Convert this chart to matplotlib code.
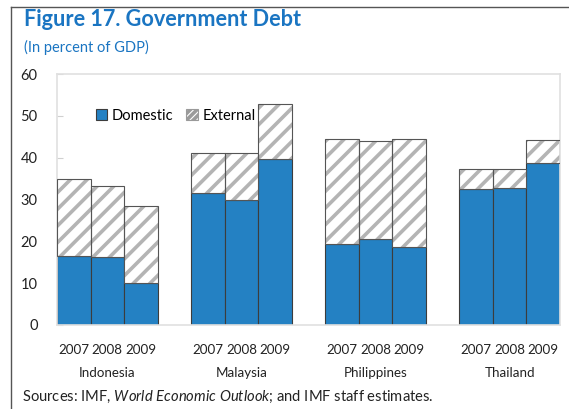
import matplotlib
matplotlib.use("Agg")
import matplotlib.pyplot as plt
from matplotlib.patches import Patch
from matplotlib.lines import Line2D

plt.rcParams['font.family'] = ['Lato', 'DejaVu Sans']
plt.rcParams['mathtext.fontset'] = 'custom'
plt.rcParams['mathtext.it'] = 'Lato:italic'
plt.rcParams['mathtext.rm'] = 'Lato'

# data
countries = ['Indonesia', 'Malaysia', 'Philippines', 'Thailand']
years = ['2007', '2008', '2009']
domestic = [[16.4, 16.3, 10.1],
            [31.6, 30.0, 39.8],
            [19.3, 20.6, 18.6],
            [32.4, 32.7, 38.8]]
total = [[35.0, 33.2, 28.5],
         [41.2, 41.2, 52.8],
         [44.5, 44.1, 44.4],
         [37.4, 37.4, 44.2]]

blue = '#2481c3'
title_blue = '#1a75c2'
edge = '#3c3c3c'
hatch_grey = '#b4b4b4'
plt.rcParams['hatch.linewidth'] = 2.6

fig = plt.figure(figsize=(5.69, 4.09), dpi=100)
ax = fig.add_axes([57 / 569, 1 - 325 / 409, 503 / 569, 251 / 409])

pos, dom, ext, labels = [], [], [], []
for g in range(len(countries)):
    for i in range(len(years)):
        pos.append(4 * g + i)
        dom.append(domestic[g][i])
        ext.append(total[g][i] - domestic[g][i])
        labels.append(years[i])

ax.bar(pos, dom, width=1.0, color=blue, edgecolor=edge, linewidth=0.8, zorder=2)
# external: hatch layer first, then outline on top
ax.bar(pos, ext, bottom=dom, width=1.0, color='white', edgecolor=hatch_grey,
       hatch='//', linewidth=0, zorder=2)
ax.bar(pos, ext, bottom=dom, width=1.0, fill=False, edgecolor='#555555',
       linewidth=0.8, zorder=3)

ax.set_xlim(-0.5, 14.5)
ax.set_ylim(0, 60)
ax.set_yticks(range(0, 61, 10))
ax.set_xticks(pos)
ax.set_xticklabels(labels)
ax.tick_params(axis='x', length=0, pad=14, labelsize=9.6, colors='#222222')
ax.tick_params(axis='y', direction='in', length=4, color='#d0d0d0',
               pad=14, labelsize=10.5, labelcolor='#222222')
for s in ax.spines.values():
    s.set_color('#e0e0e0')
    s.set_linewidth(1.2)

for g, c in enumerate(countries):
    ax.text(4 * g + 1, -0.19, c, transform=ax.get_xaxis_transform(),
            ha='center', va='center', fontsize=9.6, color='#222222')

handles = [Patch(facecolor=blue, edgecolor=edge, linewidth=0.8),
           Patch(facecolor='white', edgecolor='#9a9a9a', hatch='/////', linewidth=0.8)]
ax.legend(handles, ['Domestic', 'External'], loc='center left',
          bbox_to_anchor=(0.065, 0.833), ncol=2, frameon=False,
          handlelength=0.8, handleheight=0.8, handletextpad=0.3,
          columnspacing=0.9, fontsize=10.5, borderaxespad=0)

fig.text(24 / 569, 1 - 20 / 409, 'Figure 17. Government Debt', fontsize=15.6,
         fontweight='bold', color=title_blue, va='center', ha='left')
fig.text(24 / 569, 1 - 47 / 409, '(In percent of GDP)', fontsize=10.5,
         color=title_blue, va='center', ha='left')
fig.text(22 / 569, 1 - 397 / 409,
         'Sources: IMF, $\\mathit{World\\ Economic\\ Outlook}$; and IMF staff estimates.',
         fontsize=10.6, color='#222222', va='center', ha='left')

# figure frame: top and left rules
fig.add_artist(Line2D([11 / 569, 1], [1 - 7 / 409, 1 - 7 / 409], color='#555555', lw=1))
fig.add_artist(Line2D([11 / 569, 11 / 569], [0, 1 - 7 / 409], color='#555555', lw=1))

fig.savefig('out.png', dpi=100)
